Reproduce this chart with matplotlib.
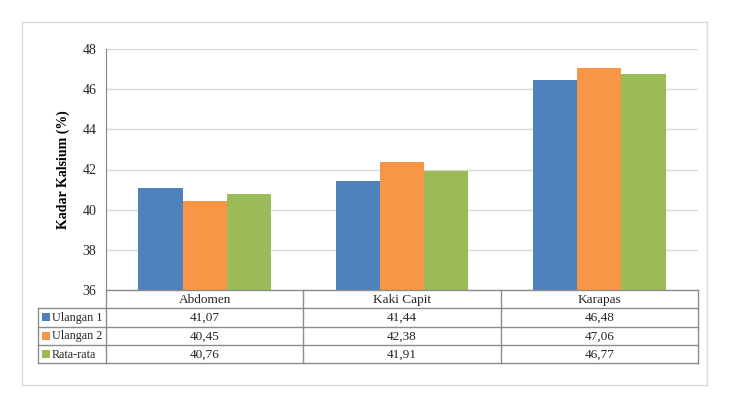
import matplotlib.pyplot as plt
from matplotlib.patches import Rectangle
from matplotlib.lines import Line2D

categories = ['Abdomen', 'Kaki Capit', 'Karapas']
series_names = ['Ulangan 1', 'Ulangan 2', 'Rata-rata']
ulangan_1 = [41.07, 41.44, 46.48]
ulangan_2 = [40.45, 42.38, 47.06]
rata_rata = [40.76, 41.91, 46.77]
colors = ['#4f81bd', '#f79646', '#9bbb59']

W, H = 735, 400


def fmt(v):
    return f'{v:.2f}'.replace('.', ',')


def main():
    plt.rcParams['font.family'] = ['Liberation Serif', 'DejaVu Serif']
    fig = plt.figure(figsize=(W / 100, H / 100), dpi=100)

    # outer chart frame
    fig.patches.append(Rectangle((22 / W, 1 - 385 / H), (707 - 22) / W, (385 - 22) / H,
                                 transform=fig.transFigure, fill=False,
                                 edgecolor='#d9d9d9', linewidth=1))

    left, right, top, bottom = 106, 698, 49, 290
    ax = fig.add_axes([left / W, 1 - bottom / H, (right - left) / W, (bottom - top) / H])

    values = [ulangan_1, ulangan_2, rata_rata]
    bw = 0.224
    for i, (vals, c) in enumerate(zip(values, colors)):
        xs = [k + (i - 1) * bw for k in range(len(categories))]
        ax.bar(xs, vals, width=bw, color=c, bottom=0, zorder=3)

    ax.set_xlim(-0.5, len(categories) - 0.5)
    ax.set_ylim(36, 48)
    ax.set_yticks(range(36, 49, 2))
    ax.tick_params(axis='y', length=0, labelsize=10, pad=7, colors='#262626')
    ax.set_xticks([])
    ax.grid(axis='y', color='#d9d9d9', linewidth=1, zorder=0)
    for s in ['top', 'right', 'bottom']:
        ax.spines[s].set_visible(False)
    ax.spines['left'].set_color('#868686')
    ax.set_ylabel('Kadar Kalsium (%)', fontsize=10, fontweight='bold', labelpad=9)

    # data table below the plot (in pixel coordinates)
    def px(x, y):
        return x / W, 1 - y / H

    line_c = '#8c8c8c'
    rows_y = [290, 308.3, 326.6, 345, 363.3]
    cols_x = [106, 303.3, 500.6, 698]
    leg_x = 38

    def line(x0, y0, x1, y1):
        a, b = px(x0, y0)
        c, d = px(x1, y1)
        fig.lines.append(Line2D([a, c], [b, d], transform=fig.transFigure,
                                color=line_c, linewidth=1))

    line(cols_x[0], rows_y[0], cols_x[-1], rows_y[0])
    for y in rows_y[1:]:
        line(leg_x, y, cols_x[-1], y)
    for x in cols_x:
        line(x, rows_y[0], x, rows_y[-1])
    line(leg_x, rows_y[1], leg_x, rows_y[-1])

    for j, cat in enumerate(categories):
        cx = (cols_x[j] + cols_x[j + 1]) / 2
        fig.text(*px(cx, (rows_y[0] + rows_y[1]) / 2 + 0.5), cat, ha='center', va='center',
                 fontsize=9.5, color='#262626')
        for i, vals in enumerate(values):
            cy = (rows_y[i + 1] + rows_y[i + 2]) / 2 + 0.5
            fig.text(*px(cx, cy), fmt(vals[j]), ha='center', va='center',
                     fontsize=9.5, color='#262626')

    for i, name in enumerate(series_names):
        cy = (rows_y[i + 1] + rows_y[i + 2]) / 2
        sx, sy = px(42, cy + 4)
        fig.patches.append(Rectangle((sx, sy), 8 / W, 8 / H, transform=fig.transFigure,
                                     facecolor=colors[i], edgecolor='none'))
        fig.text(*px(51.5, cy + 0.5), name, ha='left', va='center', fontsize=8.7, color='#262626')

    fig.savefig('out.png', dpi=100)


if __name__ == '__main__':
    main()
